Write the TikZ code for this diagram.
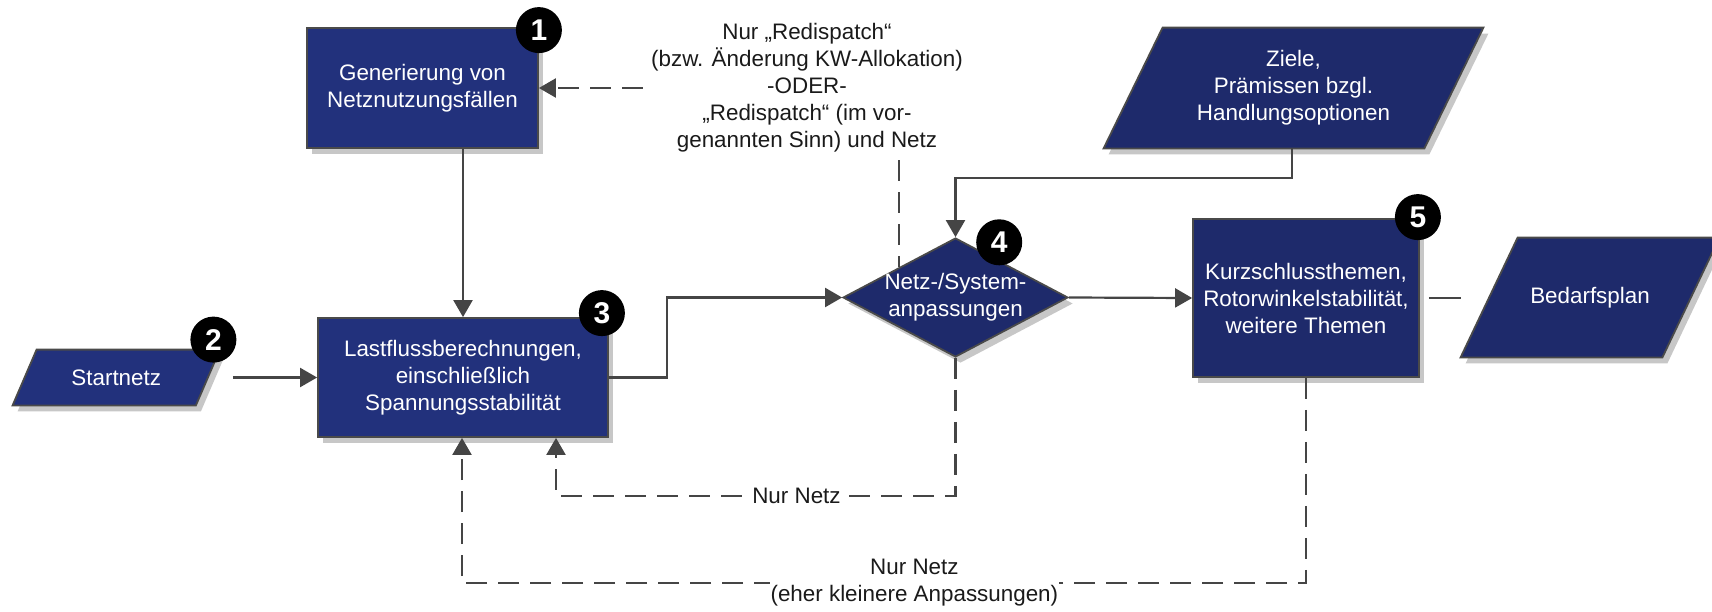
\documentclass[tikz,border=0pt]{standalone}
\usepackage{fontspec}
\setmainfont{Liberation Sans}
\usetikzlibrary{shapes.geometric,shadows,arrows.meta,calc}
\pgfdeclarelayer{background}
\pgfsetlayers{background,main}
\definecolor{navyA}{HTML}{22317C}
\definecolor{navyB}{HTML}{1E2A6B}
\definecolor{edgeclr}{HTML}{4A4A4A}
\definecolor{lineclr}{HTML}{454545}
\definecolor{txtclr}{HTML}{1A1A1A}
\begin{document}
\begin{tikzpicture}[x=0.5pt,y=-0.5pt,
  shadowed/.style={drop shadow={shadow xshift=2.5pt,shadow yshift=-3pt,fill=black!22,opacity=1}},
  boxA/.style={rectangle,draw=edgeclr,line width=0.9pt,fill=navyA,text=white,
    font=\fontsize{11.2}{13.5}\selectfont,align=center,inner sep=2pt,shadowed},
  boxB/.style={boxA,fill=navyB},
  diashape/.style={diamond,draw=edgeclr,line width=0.9pt,fill=navyB,inner sep=0pt,shadowed},
  paratext/.style={rectangle,text=white,font=\fontsize{11.2}{13.5}\selectfont,align=center,inner sep=0pt},
  parashape/.style={draw=edgeclr,line width=0.9pt,shadowed},
  note/.style={text=txtclr,font=\fontsize{11.2}{13.5}\selectfont,align=center,inner sep=4pt},
  lbl/.style={fill=white,text=txtclr,font=\fontsize{11.2}{13.5}\selectfont,align=center,inner sep=0.5pt},
  badge/.style={circle,fill=black,text=white,minimum size=23pt,inner sep=0pt,
    font=\fontsize{15}{15}\selectfont\bfseries},
  arrowline/.style={draw=lineclr,line width=1.1pt,-{Triangle[length=8.5pt,width=9.5pt]}},
  plainline/.style={draw=lineclr,line width=1.1pt},
  dashline/.style={dash pattern=on 10.5pt off 5.5pt}]

\useasboundingbox (0,0) rectangle (1712,611);

% main nodes
\node[boxA,minimum width=115.5pt,minimum height=60pt] (gen) at (422.5,88) {Generierung von\\Netznutzungsfällen};
\node[boxA,minimum width=145pt,minimum height=59.5pt] (last) at (463,377.5) {Lastflussberechnungen,\\einschließlich\\Spannungsstabilität};
\node[boxB,minimum width=113pt,minimum height=79pt] (kurz) at (1306,298) {Kurzschlussthemen,\\Rotorwinkelstabilität,\\weitere Themen};
\node[diashape,minimum width=112.5pt,minimum height=59.5pt] (dia) at (955.5,297.5) {};
\node[paratext] (diatext) at (dia.center) {Netz-/System-\\anpassungen};

\node[paratext,minimum width=91.25pt,minimum height=27.5pt] (start) at (116.25,377.5) {Startnetz};
\node[paratext,minimum width=160pt,minimum height=60pt] (ziele) at (1293.5,88) {Ziele,\\Prämissen bzgl.\\Handlungsoptionen};
\node[paratext,minimum width=100.5pt,minimum height=59.5pt] (bedarf) at (1590,297.5) {Bedarfsplan};

\begin{pgfonlayer}{background}
  \path[parashape,fill=navyA] ([xshift=6pt]start.north west) -- ([xshift=6pt]start.north east)
    -- ([xshift=-6pt]start.south east) -- ([xshift=-6pt]start.south west) -- cycle;
  \path[parashape,fill=navyB] ([xshift=14.75pt]ziele.north west) -- ([xshift=14.75pt]ziele.north east)
    -- ([xshift=-14.75pt]ziele.south east) -- ([xshift=-14.75pt]ziele.south west) -- cycle;
  \path[parashape,fill=navyB] ([xshift=14.25pt]bedarf.north west) -- ([xshift=14.25pt]bedarf.north east)
    -- ([xshift=-14.25pt]bedarf.south east) -- ([xshift=-14.25pt]bedarf.south west) -- cycle;
\end{pgfonlayer}

\node[note] (red) at (807,87.5) {Nur „Redispatch“\\(bzw. Änderung KW-Allokation)\\-ODER-\\„Redispatch“ (im vor-\\genannten Sinn) und Netz};

% connectors
\coordinate (bend1) at (667,297.5);
\coordinate (bend2) at (1292,178);
\coordinate (n1) at (556,496);
\coordinate (n2) at (462,583);

\draw[arrowline] (gen.south -| last.north) -- (last.north);
\draw[arrowline,shorten <=12.5pt] (start.east) -- (last.west);
\draw[arrowline] (last.east) -| (bend1) -- (dia.west);
\draw[arrowline] (dia.east) -- (kurz.west);
\draw[plainline,shorten <=4.5pt,shorten >=14.25pt] (kurz.east) -- (kurz.east -| bedarf.west);
\draw[arrowline] (ziele.south -| bend2) -- (bend2) -| (dia.north);
\draw[arrowline,dashline] (red.west |- gen.east) -- (gen.east);
\draw[plainline,dashline] (red.south -| dia.north west) -- (dia.north west);
\draw[arrowline,dashline] (dia.south) |- node[lbl,pos=0.699] (lab1) {Nur Netz} (n1) -- (n1 |- last.south);
\draw[arrowline,dashline] (kurz.south) |- node[lbl,pos=0.732] (lab2) {Nur Netz\\(eher kleinere Anpassungen)} (n2) -- (n2 |- last.south);

% badges
\node[badge] (b1) at ([yshift=-1.5pt]gen.north east) {1};
\node[badge] (b2) at ([xshift=2.75pt,yshift=5pt]start.north east) {2};
\node[badge] (b3) at ([xshift=-3.5pt,yshift=2pt]last.north east) {3};
\node[badge] (b4) at ([xshift=-6.5pt,yshift=12.5pt]dia.north east) {4};
\node[badge] (b5) at ([xshift=-1pt,yshift=0.5pt]kurz.north east) {5};
\end{tikzpicture}
\end{document}
